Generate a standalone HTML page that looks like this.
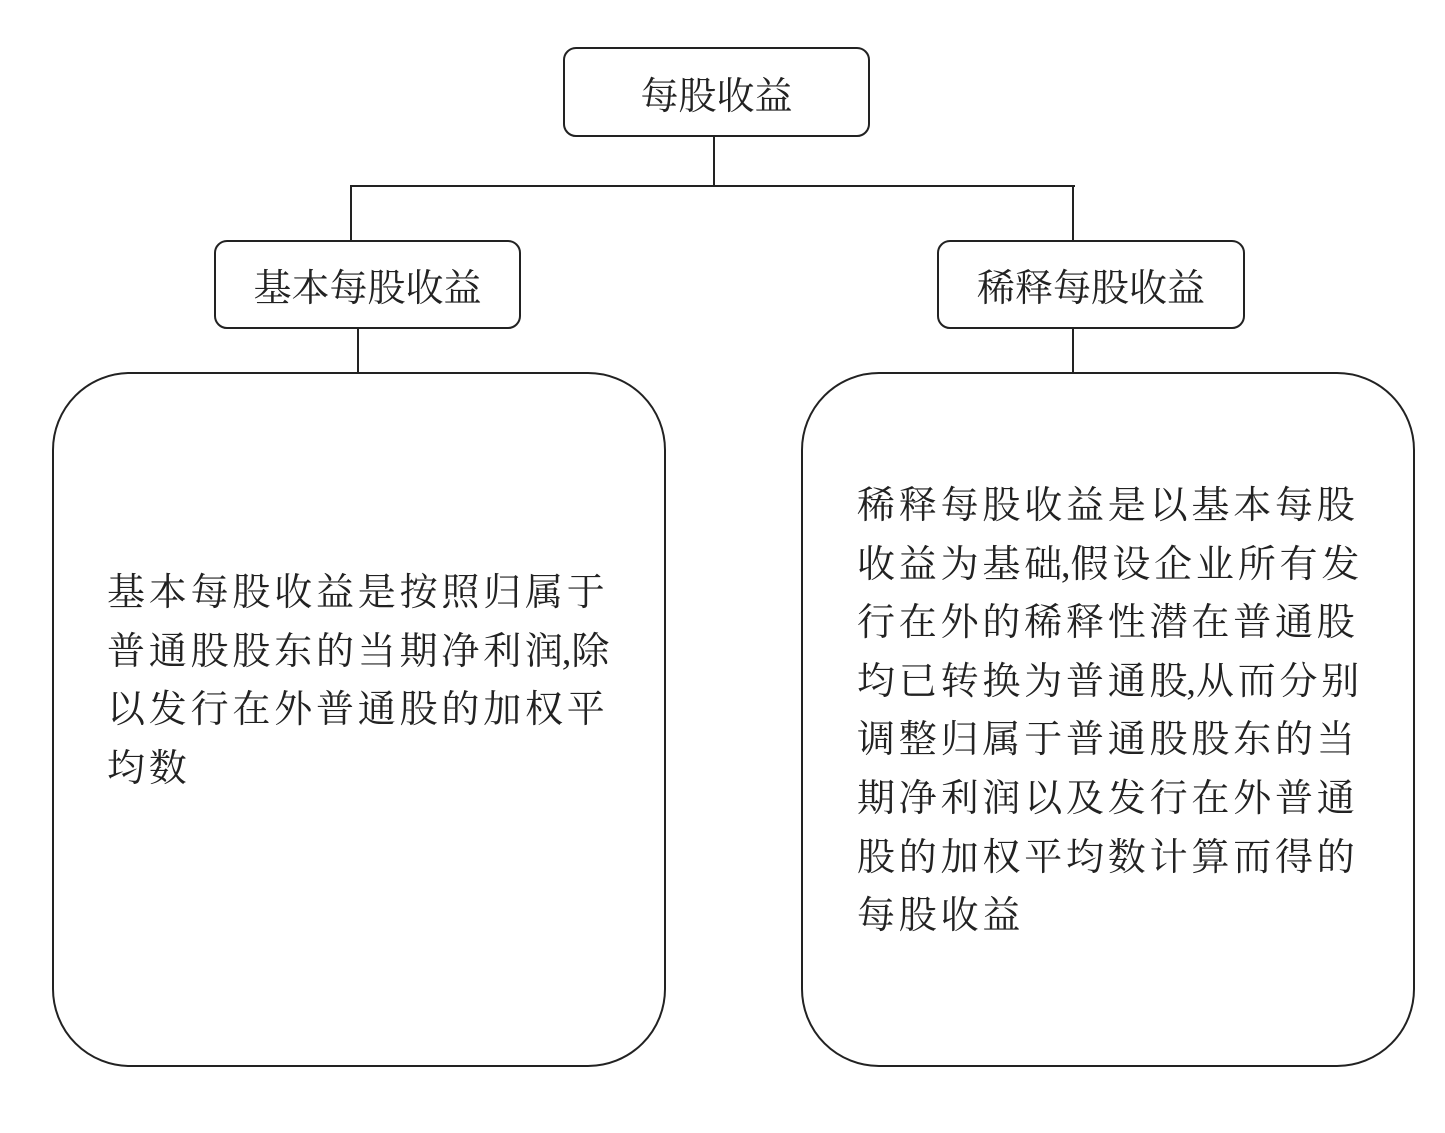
<!DOCTYPE html>
<html><head><meta charset="utf-8"><style>
body{margin:0;background:#fff;width:1445px;height:1133px;position:relative;overflow:hidden;font-family:"Liberation Serif","Noto Serif CJK SC",serif;color:#222}
.b{position:absolute;border:2px solid #222;box-sizing:border-box;background:#fff}
.t{display:flex;align-items:center;justify-content:center;font-size:38px;border-radius:13px}
.l{position:absolute;background:#222}
.txt{position:absolute;font-size:38px;letter-spacing:3.8px;line-height:58.6px;white-space:nowrap}
.c{margin-left:-5px;letter-spacing:0}
</style></head><body>
<div class="l" style="left:713px;top:135px;width:2px;height:52px"></div>
<div class="l" style="left:350px;top:185px;width:725px;height:2px"></div>
<div class="l" style="left:350px;top:185px;width:2px;height:56px"></div>
<div class="l" style="left:1072px;top:185px;width:2px;height:56px"></div>
<div class="l" style="left:357px;top:326px;width:2px;height:47px"></div>
<div class="l" style="left:1072px;top:326px;width:2px;height:47px"></div>
<div class="b t" style="left:563px;top:47px;width:307px;height:90px">每股收益</div>
<div class="b t" style="left:214px;top:240px;width:307px;height:89px">基本每股收益</div>
<div class="b t" style="left:937px;top:240px;width:308px;height:89px">稀释每股收益</div>
<div class="b" style="left:52px;top:372px;width:614px;height:695px;border-radius:78px"></div>
<div class="b" style="left:801px;top:372px;width:614px;height:695px;border-radius:78px"></div>
<div class="txt" style="left:107px;top:564px">基本每股收益是按照归属于<br>普通股股东的当期净利润<span class="c">,</span>除<br>以发行在外普通股的加权平<br>均数</div>
<div class="txt" style="left:857px;top:477px">稀释每股收益是以基本每股<br>收益为基础<span class="c">,</span>假设企业所有发<br>行在外的稀释性潜在普通股<br>均已转换为普通股<span class="c">,</span>从而分别<br>调整归属于普通股股东的当<br>期净利润以及发行在外普通<br>股的加权平均数计算而得的<br>每股收益</div>
</body></html>
